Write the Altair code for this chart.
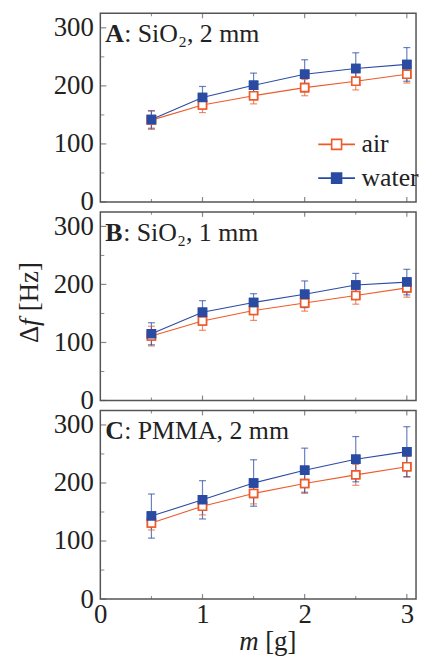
import altair as alt
import pandas as pd

# ---------------- data ----------------
masses = [0.5, 1.0, 1.5, 2.0, 2.5, 3.0]
series_names = ["air", "water"]

a_air = [141, 167, 183, 197, 208, 220]
a_air_err = [16, 13, 14, 14, 15, 15]
a_water = [142, 180, 201, 220, 230, 237]
a_water_err = [15, 19, 21, 25, 27, 29]

b_air = [111, 137, 155, 168, 181, 194]
b_air_err = [17, 16, 17, 14, 15, 16]
b_water = [115, 152, 169, 183, 199, 204]
b_water_err = [19, 20, 15, 23, 20, 22]

c_air = [131, 160, 182, 199, 214, 228]
c_air_err = [12, 15, 18, 17, 18, 18]
c_water = [143, 171, 200, 222, 241, 254]
c_water_err = [38, 33, 40, 38, 39, 43]

panel_letters = ["A", "B", "C"]
panel_texts = [": SiO\u2082, 2 mm", ": SiO\u2082, 1 mm", ": PMMA, 2 mm"]

y_major = [0, 100, 200, 300]
y_minor = [50, 150, 250]
x_major = [1, 2, 3]
x_minor = [0.5, 1.5, 2.5]
x_labels = [0, 1, 2, 3]

# ---------------- style ----------------
SERIF = "Liberation Serif"
ORANGE = "#EE5A2A"
BLUE = "#2A4BA2"
FRAME = "#555555"
TXT = "#222222"
W = 318
H = 190

x_scale = alt.Scale(domain=[0, 3.09], nice=False, zero=False)
y_scale = alt.Scale(domain=[0, 325], nice=False, zero=False)
color_scale = alt.Scale(domain=series_names, range=[ORANGE, BLUE])
stroke_scale = alt.Scale(domain=series_names, range=[ORANGE, BLUE])
fill_scale = alt.Scale(domain=series_names, range=["white", BLUE])

LEGEND_PATH = "M-3.7,0H-1M1,0H3.7M-1,-1H1V1H-1Z"


def long_df(air, air_err, water, water_err):
    rows = []
    for name, vals, errs in (("air", air, air_err), ("water", water, water_err)):
        for m, v, e in zip(masses, vals, errs):
            rows.append({"m": m, "series": name, "v": v, "lo": v - e, "hi": v + e})
    return pd.DataFrame(rows)


def panel(i, air, air_err, water, water_err, show_x=False, show_legend=False,
          extra=None):
    df = long_df(air, air_err, water, water_err)
    base = alt.Chart(df)
    if show_x:
        x_axis = alt.Axis(values=x_labels, tickSize=0, domain=False, grid=False,
                          labelFont=SERIF, labelFontSize=27, labelColor=TXT,
                          labelPadding=3, labelFlush=False, title=None,
                          format="d")
    else:
        x_axis = None
    X = alt.X("m:Q", scale=x_scale, axis=x_axis)
    y_axis = alt.Axis(values=y_major, tickSize=0, domain=False, grid=False,
                      labelFont=SERIF, labelFontSize=27, labelColor=TXT,
                      labelPadding=7, labelFlush=False, title=None)
    stroke_plain = alt.Stroke("series:N", scale=stroke_scale, legend=None)

    if show_legend:
        fill_expr = "datum.value === 'air' ? 'white' : '" + BLUE + "'"
        leg = alt.Legend(orient="none", legendX=225, legendY=119, title=None,
                         symbolType=LEGEND_PATH, symbolSize=100,
                         symbolStrokeWidth=1.6, labelFont=SERIF,
                         labelFontSize=26, labelColor=TXT, labelOffset=12,
                         rowPadding=8, padding=0,
                         symbolFillColor=alt.ExprRef(expr=fill_expr),
                         symbolOpacity=1)
    else:
        leg = None

    points = base.mark_point(shape="square", size=64, strokeWidth=1.6,
                             opacity=1, filled=False).encode(
        x=X, y=alt.Y("v:Q", scale=y_scale, axis=y_axis),
        color=alt.Color("series:N", scale=color_scale, legend=leg),
        fill=alt.Fill("series:N", scale=fill_scale, legend=None))
    rules = base.mark_rule(strokeWidth=1.2, opacity=0.7).encode(
        x=X, y=alt.Y("lo:Q", scale=y_scale), y2="hi:Q", stroke=stroke_plain)
    cap_lo = base.mark_rule(strokeWidth=1.2, opacity=0.7, xOffset=-3.5,
                            x2Offset=3.5).encode(
        x=X, x2="m:Q", y=alt.Y("lo:Q", scale=y_scale), stroke=stroke_plain)
    cap_hi = base.mark_rule(strokeWidth=1.2, opacity=0.7, xOffset=-3.5,
                            x2Offset=3.5).encode(
        x=X, x2="m:Q", y=alt.Y("hi:Q", scale=y_scale), stroke=stroke_plain)
    lines = base.mark_line(strokeWidth=1.1).encode(
        x=X, y=alt.Y("v:Q", scale=y_scale), stroke=stroke_plain)

    # inward ticks on the frame
    ytm = alt.Chart(pd.DataFrame({"v": y_major})).mark_tick(
        orient="horizontal", size=6, thickness=1.2, color=FRAME).encode(
        x=alt.value(3), y=alt.Y("v:Q", scale=y_scale))
    ytn = alt.Chart(pd.DataFrame({"v": y_minor})).mark_tick(
        orient="horizontal", size=4, thickness=1.0, color=FRAME).encode(
        x=alt.value(2), y=alt.Y("v:Q", scale=y_scale))
    xt_top = alt.Chart(pd.DataFrame({"v": x_major})).mark_tick(
        orient="vertical", size=5, thickness=1.2, color=FRAME).encode(
        x=alt.X("v:Q", scale=x_scale), y=alt.value(2.5))
    xt_bot = alt.Chart(pd.DataFrame({"v": x_major})).mark_tick(
        orient="vertical", size=5, thickness=1.2, color=FRAME).encode(
        x=alt.X("v:Q", scale=x_scale), y=alt.value(H - 2.5))
    xn_top = alt.Chart(pd.DataFrame({"v": x_minor})).mark_tick(
        orient="vertical", size=3, thickness=1.0, color=FRAME).encode(
        x=alt.X("v:Q", scale=x_scale), y=alt.value(1.5))
    xn_bot = alt.Chart(pd.DataFrame({"v": x_minor})).mark_tick(
        orient="vertical", size=3, thickness=1.0, color=FRAME).encode(
        x=alt.X("v:Q", scale=x_scale), y=alt.value(H - 1.5))

    letter = alt.Chart(pd.DataFrame({"t": [panel_letters[i]]})).mark_text(
        align="left", baseline="alphabetic", font=SERIF, fontSize=26,
        fontWeight="bold", color=TXT).encode(
        text="t:N", x=alt.value(5), y=alt.value(29))
    rest_x = [24, 23, 24][i]
    rest = alt.Chart(pd.DataFrame({"t": [panel_texts[i]]})).mark_text(
        align="left", baseline="alphabetic", font=SERIF, fontSize=26,
        color=TXT).encode(
        text="t:N", x=alt.value(rest_x), y=alt.value(29))

    layers = [points, rules, cap_lo, cap_hi, lines, points, ytm, ytn, xt_top,
              xt_bot, xn_top, xn_bot, letter, rest]
    if extra:
        layers += extra
    return alt.layer(*layers).properties(width=W, height=H)


# y-axis title pieces (placed in panel B)
ytitle = [
    alt.Chart(pd.DataFrame({"t": ["\u0394"]})).mark_text(
        angle=270, align="left", baseline="middle", font=SERIF, fontSize=27,
        color=TXT).encode(text="t:N", x=alt.value(-71), y=alt.value(132)),
    alt.Chart(pd.DataFrame({"t": ["f"]})).mark_text(
        angle=270, align="left", baseline="middle", font=SERIF, fontSize=27,
        fontStyle="italic", color=TXT).encode(
        text="t:N", x=alt.value(-71), y=alt.value(115)),
    alt.Chart(pd.DataFrame({"t": ["[Hz]"]})).mark_text(
        angle=270, align="left", baseline="middle", font=SERIF, fontSize=27,
        color=TXT).encode(text="t:N", x=alt.value(-71), y=alt.value(100)),
]

# x-axis title pieces (placed in panel C)
xtitle = [
    alt.Chart(pd.DataFrame({"t": ["m"]})).mark_text(
        align="left", baseline="alphabetic", font=SERIF, fontSize=27,
        fontStyle="italic", color=TXT).encode(
        text="t:N", x=alt.value(140), y=alt.value(H + 51)),
    alt.Chart(pd.DataFrame({"t": ["[g]"]})).mark_text(
        align="left", baseline="alphabetic", font=SERIF, fontSize=27,
        color=TXT).encode(
        text="t:N", x=alt.value(166), y=alt.value(H + 51)),
]

pA = panel(0, a_air, a_air_err, a_water, a_water_err, show_legend=True)
pB = panel(1, b_air, b_air_err, b_water, b_water_err, extra=ytitle)
pC = panel(2, c_air, c_air_err, c_water, c_water_err, show_x=True, extra=xtitle)

chart = alt.vconcat(pA, pB, pC, spacing=10, bounds="flush").resolve_legend(
    color="independent", stroke="independent", fill="independent"
).properties(
    padding={"left": 7, "top": 2, "right": 0, "bottom": 0}
).configure_view(
    stroke=FRAME, strokeWidth=1.5
)

chart.save("out.html", embed_options={"renderer": "svg", "actions": False})
